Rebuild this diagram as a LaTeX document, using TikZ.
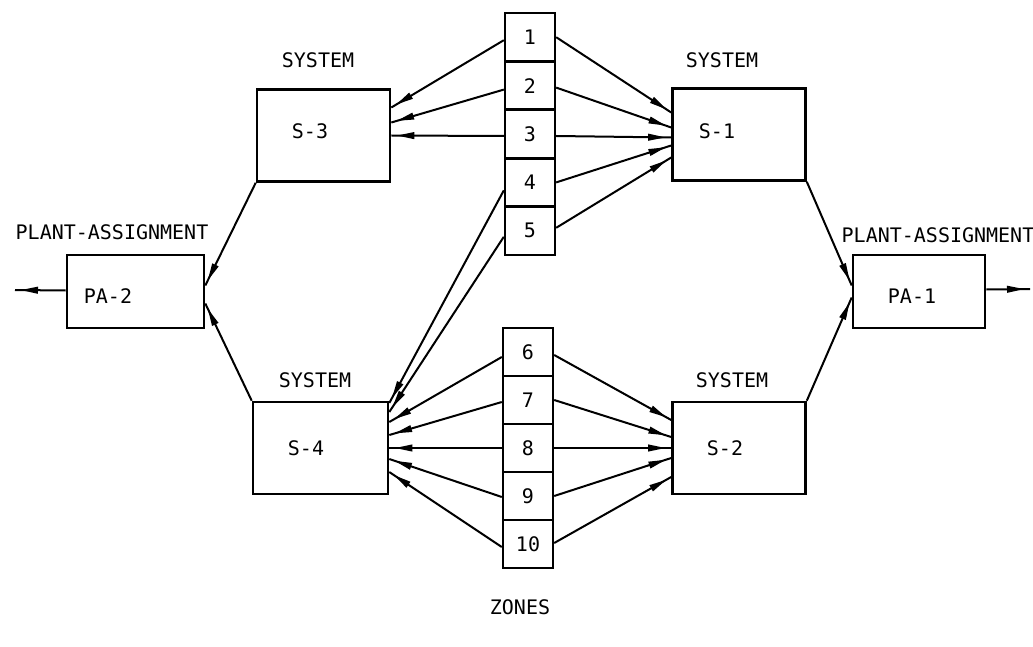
\documentclass[tikz,border=0pt]{standalone}
\usepackage{fontspec}
\setmainfont{DejaVu Sans Mono}
\usetikzlibrary{decorations.markings,arrows.meta}
\begin{document}
\begin{tikzpicture}[x=1pt,y=-1pt, font=\fontsize{20}{20}\selectfont,
  box/.style={draw, line width=2.6pt, minimum width=133pt, minimum height=92pt, inner sep=0pt},
  zone/.style={draw, line width=2.4pt, minimum width=50pt, minimum height=48pt, inner sep=0pt},
  conn/.style={line width=2pt, postaction=decorate,
    decoration={markings, mark=at position -6pt with {\fill (0pt,0pt) -- (-17pt,3.6pt) -- (-17pt,-3.6pt) -- cycle;}}},
  lbl/.style={inner sep=0pt}]
\path[use as bounding box] (0,0) rectangle (1033,647);
% systems
\node[box] (s3) at (323.5,135.5) {};
\node[box] (s1) at (739,134.5) {};
\node[box, minimum width=135pt] (s4) at (320.5,448) {};
\node[box] (s2) at (739,448) {};
\node[box, minimum width=137pt, minimum height=73pt] (pa2) at (135.5,291.5) {};
\node[box, minimum width=132pt, minimum height=73pt] (pa1) at (919,291.5) {};
% labels in boxes
\node[lbl] (t3) at (310,131) {S-3};
\node[lbl] (t1) at (717,131) {S-1};
\node[lbl] (t4) at (306,448) {S-4};
\node[lbl] (t2) at (725,448) {S-2};
\node[lbl] (tp2) at (108,296) {PA-2};
\node[lbl] (tp1) at (912,296) {PA-1};
% labels above
\node[lbl] (y3) at (318,60) {SYSTEM};
\node[lbl] (y1) at (722,60) {SYSTEM};
\node[lbl] (y4) at (315,380) {SYSTEM};
\node[lbl] (y2) at (732,380) {SYSTEM};
\node[lbl] (p2) at (112,232) {PLANT-ASSIGNMENT};
\node[lbl] (p1) at (938,235) {PLANT-ASSIGNMENT};
\node[lbl] (zl) at (520,607) {ZONES};
% zones
\node[zone] (z1) at (530,37.2) {1};
\node[zone] (z2) at (530,85.6) {2};
\node[zone] (z3) at (530,134) {3};
\node[zone] (z4) at (530,182.4) {4};
\node[zone] (z5) at (530,230.8) {5};
\node[zone] (z6) at (528,352) {6};
\node[zone] (z7) at (528,400) {7};
\node[zone] (z8) at (528,448) {8};
\node[zone] (z9) at (528,496) {9};
\node[zone] (z10) at (528,544) {10};
% zones -> S-3
\draw[conn] ([yshift=-3pt]z1.west) -- ([yshift=28pt]s3.east);
\draw[conn] ([yshift=-4pt]z2.west) -- ([yshift=13pt]s3.east);
\draw[conn] ([yshift=-2pt]z3.west) -- (s3.east);
% zones -> S-1
\draw[conn] (z1.east) -- ([yshift=22pt]s1.west);
\draw[conn] ([yshift=-2pt]z2.east) -- ([yshift=7pt]s1.west);
\draw[conn] ([yshift=-2pt]z3.east) -- ([yshift=-3pt]s1.west);
\draw[conn] (z4.east) -- ([yshift=-11pt]s1.west);
\draw[conn] ([yshift=3pt]z5.east) -- ([yshift=-23pt]s1.west);
% zones -> S-4
\draw[conn] ([yshift=-8pt]z4.west) -- ([yshift=45pt]s4.east);
\draw[conn] ([yshift=-6pt]z5.west) -- ([yshift=36pt]s4.east);
\draw[conn] ([yshift=-5pt]z6.west) -- ([yshift=26pt]s4.east);
\draw[conn] ([yshift=-2pt]z7.west) -- ([yshift=13pt]s4.east);
\draw[conn] (z8.west) -- (s4.east);
\draw[conn] ([yshift=-1pt]z9.west) -- ([yshift=-11pt]s4.east);
\draw[conn] ([yshift=-3pt]z10.west) -- ([yshift=-24pt]s4.east);
% zones -> S-2
\draw[conn] ([yshift=-3pt]z6.east) -- ([yshift=28pt]s2.west);
\draw[conn] (z7.east) -- ([yshift=11pt]s2.west);
\draw[conn] (z8.east) -- (s2.west);
\draw[conn] (z9.east) -- ([yshift=-10pt]s2.west);
\draw[conn] ([yshift=1pt]z10.east) -- ([yshift=-29pt]s2.west);
% systems -> plant assignments
\draw[conn] (s3.south west) -- ([yshift=6pt]pa2.east);
\draw[conn] (s4.north west) -- ([yshift=-12pt]pa2.east);
\draw[conn] (s1.south east) -- ([yshift=6pt]pa1.west);
\draw[conn] (s2.north east) -- ([yshift=-6pt]pa1.west);
% outputs
\coordinate (lout) at (15,290);
\coordinate (rout) at (1030,289);
\draw[conn] ([yshift=1pt]pa2.west) -- (lout);
\draw[conn] ([yshift=2pt]pa1.east) -- (rout);
\end{tikzpicture}
\end{document}
